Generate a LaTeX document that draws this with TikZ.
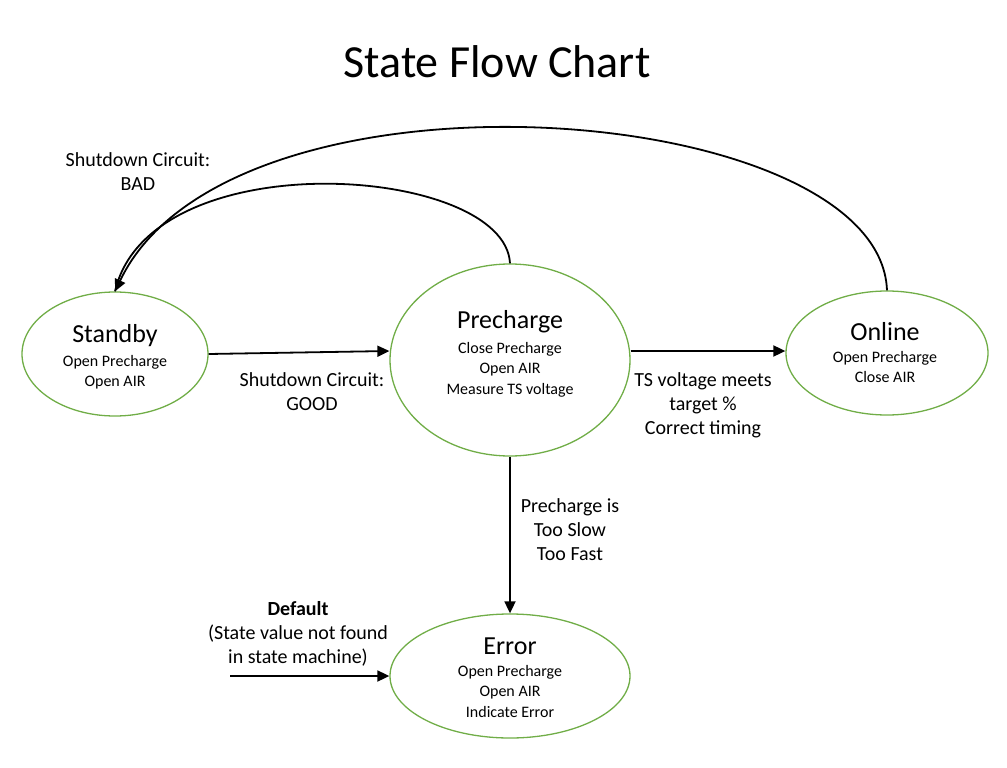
\documentclass[tikz,border=0pt]{standalone}
\usepackage{fontspec}
\setmainfont{Carlito}
\usetikzlibrary{shapes.geometric,arrows.meta}
\definecolor{stgreen}{HTML}{70AD47}
\begin{document}
\begin{tikzpicture}[x=1pt,y=-1pt,
  state/.style={draw=stgreen,line width=1.3pt,ellipse,inner sep=0pt},
  txt/.style={align=center,inner sep=0pt,font=\fontsize{16}{20.5}\selectfont},
  big/.style={inner sep=0pt,font=\fontsize{26}{30}\selectfont},
  lbl/.style={align=center,inner sep=0pt,font=\fontsize{20}{24}\selectfont},
  arr/.style={line width=1.8pt,-{Triangle[length=12pt,width=11pt]}},
  ln/.style={line width=1.8pt}]
\useasboundingbox (0,0) rectangle (1007,768);
\node[font=\fontsize{46}{50}\selectfont] (title) at (497,62) {State Flow Chart};
% states
\node[state,minimum width=186pt,minimum height=124pt] (standby) at (115,354) {};
\node[state,minimum width=240pt,minimum height=192pt] (pre) at (510,360) {};
\node[state,minimum width=202pt,minimum height=124pt] (online) at (887,353) {};
\node[state,minimum width=240pt,minimum height=124pt] (error) at (510,676) {};
% state texts
\node[big] (standbyT) at (115,336) {Standby};
\node[txt,anchor=north] (standbyS) at (115,355) {Open Precharge\\Open AIR};
\node[big] (preT) at (510,322) {Precharge};
\node[txt,anchor=north] (preS) at (510,342) {Close Precharge\\Open AIR\\Measure TS voltage};
\node[big] (onlineT) at (885,332) {Online};
\node[txt,anchor=north] (onlineS) at (885,351) {Open Precharge\\Close AIR};
\node[big] (errorT) at (510,646) {Error};
\node[txt,anchor=north] (errorS) at (510,665) {Open Precharge\\Open AIR\\Indicate Error};
% connectors
\coordinate (lvl) at (0,351);
\draw[arr] (standby.east) -- (pre.west |- lvl);
\draw[arr] (pre.east |- lvl) -- (online.west |- lvl);
\draw[arr] (pre.south) -- (error.north);
\coordinate (dflt) at (230,676);
\draw[arr] (dflt) -- (error.west);
\draw[ln] (pre.north) .. controls (505,165) and (150,140) .. (standby.north);
\draw[arr] (online.north) .. controls (880,100) and (230,50) .. (standby.north);
% labels
\node[lbl] (bad) at (138,172) {Shutdown Circuit:\\BAD};
\node[lbl] (good) at (312,392) {Shutdown Circuit:\\GOOD};
\node[lbl] (ts) at (703,405) {TS voltage meets\\target \%\\Correct timing};
\node[lbl] (slow) at (570,530) {Precharge is\\Too Slow\\Too Fast};
\node[lbl] (def) at (298,634) {\textbf{Default}\\(State value not found\\in state machine)};
\end{tikzpicture}
\end{document}
